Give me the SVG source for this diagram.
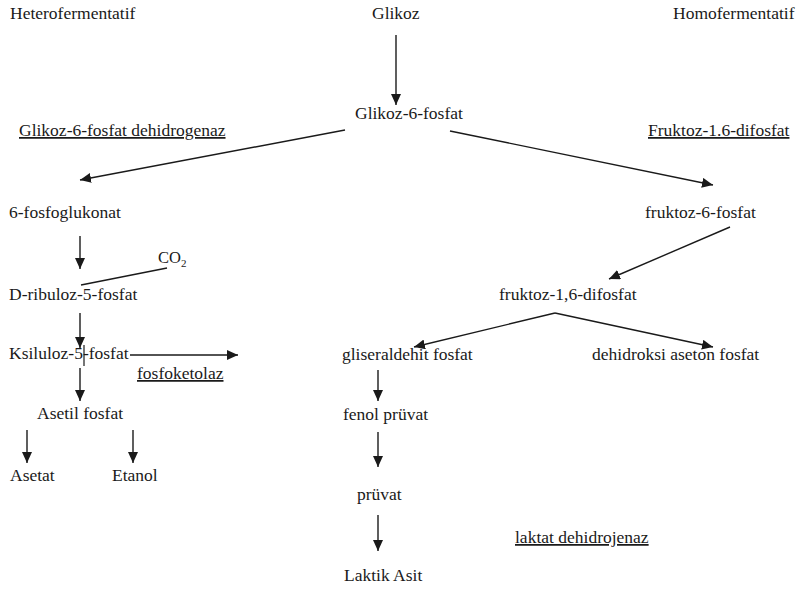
<svg xmlns="http://www.w3.org/2000/svg" width="797" height="594" viewBox="0 0 797 594">
<style>
text{font-family:"Liberation Serif","Times New Roman",serif;font-size:17.5px;fill:#1a1a1a}
.u{text-decoration:underline}
.c line,.c path{stroke:#1a1a1a;stroke-width:1.4;fill:none}
</style>
<defs>
<marker id="ah" markerUnits="userSpaceOnUse" markerWidth="12" markerHeight="10" refX="11" refY="5" orient="auto">
<path d="M0,0 L11,5 L0,10 Z" fill="#1a1a1a"/>
</marker>
</defs>
<rect width="797" height="594" fill="#fff"/>
<g id="labels">
<text x="10" y="19">Heterofermentatif</text>
<text x="673" y="19">Homofermentatif</text>
<text class="u" x="19" y="136">Glikoz-6-fosfat dehidrogenaz</text>
<text class="u" x="648" y="136">Fruktoz-1.6-difosfat</text>
<text class="u" x="137" y="379">fosfoketolaz</text>
<text class="u" x="515" y="543">laktat dehidrojenaz</text>
</g>
<g id="glikoz"><text x="372" y="19">Glikoz</text></g>
<g id="g6p"><text x="355" y="119">Glikoz-6-fosfat</text></g>
<g id="fosfoglukonat"><text x="9" y="218">6-fosfoglukonat</text></g>
<g id="f6p"><text x="645" y="218">fruktoz-6-fosfat</text></g>
<g id="co2"><text x="158" y="263" style="font-size:16.5px">CO<tspan style="font-size:11px" dy="4">2</tspan></text></g>
<g id="ribuloz"><text x="9" y="300">D-ribuloz-5-fosfat</text></g>
<g id="f16dp"><text x="499" y="300">fruktoz-1,6-difosfat</text></g>
<g id="ksiluloz"><text x="9" y="359">Ksiluloz-5-fosfat</text><line x1="84" y1="345" x2="84" y2="366" stroke="#1a1a1a" stroke-width="1.2"/></g>
<g id="gliseraldehit"><text x="342" y="360">gliseraldehit fosfat</text></g>
<g id="dhap"><text x="592" y="360">dehidroksi aseton fosfat</text></g>
<g id="asetilfosfat"><text x="37" y="419">Asetil fosfat</text></g>
<g id="fenolpruvat"><text x="343" y="420">fenol prüvat</text></g>
<g id="asetat"><text x="10" y="481">Asetat</text></g>
<g id="etanol"><text x="112" y="481">Etanol</text></g>
<g id="pruvat"><text x="357" y="500">prüvat</text></g>
<g id="laktik"><text x="344" y="581">Laktik Asit</text></g>
<g id="connectors" class="c">
<line x1="396" y1="35" x2="396" y2="105" marker-end="url(#ah)"/>
<line x1="345" y1="130" x2="80" y2="180" marker-end="url(#ah)"/>
<line x1="450" y1="131" x2="713" y2="185" marker-end="url(#ah)"/>
<line x1="80" y1="236" x2="80" y2="269" marker-end="url(#ah)"/>
<line x1="167" y1="268" x2="81" y2="285"/>
<line x1="730" y1="227" x2="609" y2="279" marker-end="url(#ah)"/>
<line x1="80" y1="313" x2="80" y2="348" marker-end="url(#ah)"/>
<line x1="130" y1="355" x2="238" y2="355" marker-end="url(#ah)"/>
<line x1="555" y1="313" x2="414" y2="347" marker-end="url(#ah)"/>
<line x1="555" y1="313" x2="713" y2="347" marker-end="url(#ah)"/>
<line x1="80" y1="368" x2="80" y2="401" marker-end="url(#ah)"/>
<line x1="378" y1="370" x2="378" y2="401" marker-end="url(#ah)"/>
<line x1="27" y1="430" x2="27" y2="463" marker-end="url(#ah)"/>
<line x1="133" y1="430" x2="133" y2="463" marker-end="url(#ah)"/>
<line x1="378" y1="432" x2="378" y2="467" marker-end="url(#ah)"/>
<line x1="378" y1="515" x2="378" y2="551" marker-end="url(#ah)"/>
</g>
</svg>
